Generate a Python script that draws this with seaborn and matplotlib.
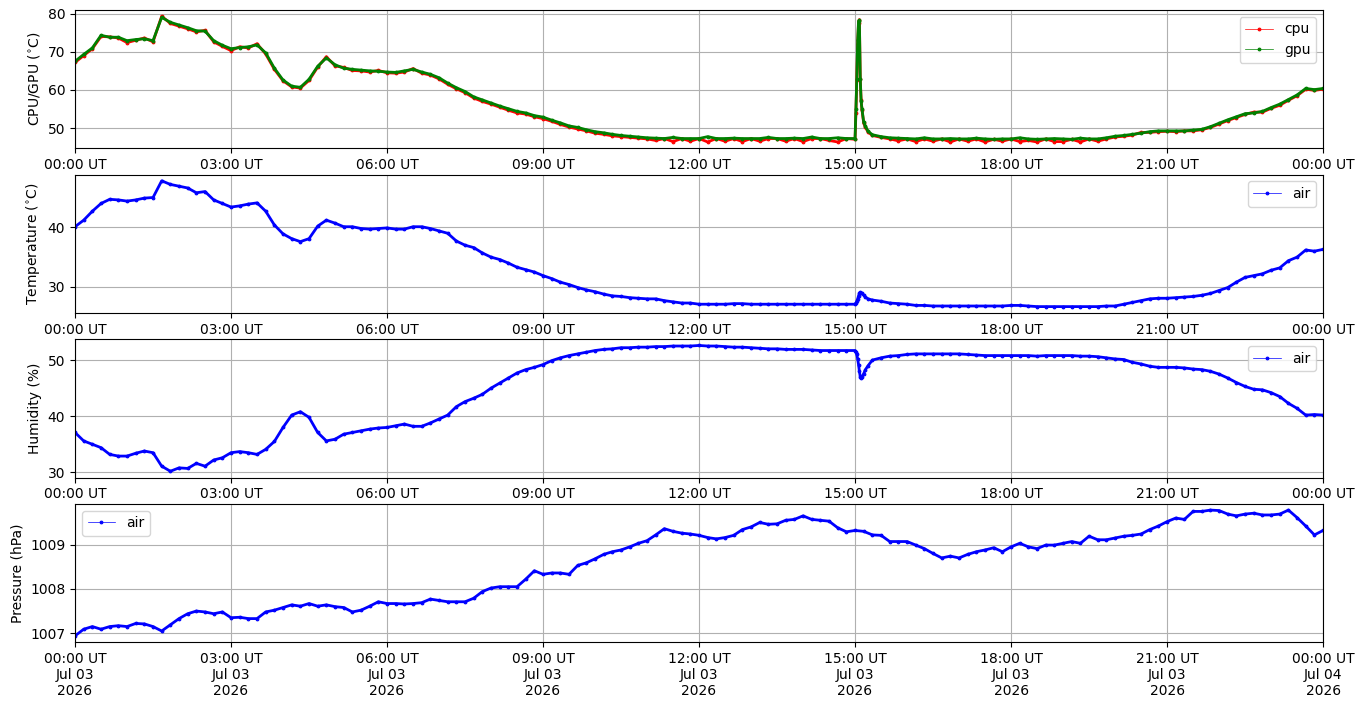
import datetime as dt
import matplotlib
matplotlib.use("Agg")
import matplotlib.pyplot as plt
import matplotlib.dates as mdates
import matplotlib.ticker as mticker
import seaborn as sns

day = dt.datetime(2026, 7, 3)

# one reading every 10 minutes, 00:00 UT .. 00:00 UT next day (145 values)
minutes = list(range(0, 24 * 60 + 1, 10))

cpu = [
    67.2, 69.0, 70.8, 74.0, 73.9, 73.6,
    72.4, 73.0, 73.6, 72.6, 79.3, 77.4,
    76.7, 76.0, 75.2, 75.6, 72.6, 71.4,
    70.3, 71.3, 71.0, 72.1, 69.4, 65.4,
    62.4, 60.8, 60.5, 62.5, 66.0, 68.7,
    66.3, 65.9, 65.1, 65.0, 64.7, 65.1,
    64.5, 64.4, 64.7, 65.6, 64.4, 63.9,
    62.9, 61.5, 60.3, 59.3, 57.9, 57.0,
    56.3, 55.5, 54.7, 54.0, 53.7, 53.0,
    52.5, 51.8, 51.0, 50.3, 49.8, 49.3,
    48.7, 48.4, 48.0, 47.8, 47.6, 47.4,
    47.2, 46.8, 47.3, 46.5, 47.3, 46.6,
    47.3, 46.4, 47.3, 46.6, 47.3, 46.5,
    47.3, 46.6, 47.3, 47.3, 46.6, 47.3,
    46.5, 47.3, 47.3, 46.8, 46.4, 47.3,
    47.1, 51.3, 48.1, 47.6, 47.2, 46.7,
    47.2, 46.5, 47.2, 46.6, 47.2, 46.4,
    47.2, 46.6, 47.2, 46.4, 47.1, 46.6,
    47.2, 46.5, 46.8, 46.4, 47.2, 46.5,
    46.5, 47.1, 46.4, 47.2, 46.6, 47.2,
    47.7, 47.9, 48.2, 48.9, 48.9, 49.1,
    49.2, 49.1, 49.3, 49.3, 49.6, 50.2,
    51.1, 52.0, 52.8, 53.6, 54.2, 54.2,
    55.2, 56.0, 57.3, 58.5, 60.2, 59.9,
    60.2,
]

gpu = [
    67.5, 69.3, 71.0, 74.3, 73.8, 73.8,
    72.9, 73.2, 73.4, 72.9, 79.0, 77.7,
    77.0, 76.3, 75.5, 75.4, 72.9, 71.7,
    70.8, 71.1, 71.3, 71.8, 69.7, 65.7,
    62.6, 61.0, 60.7, 62.8, 66.2, 68.4,
    66.6, 65.7, 65.4, 65.2, 65.0, 64.9,
    64.7, 64.6, 65.0, 65.4, 64.7, 64.1,
    63.2, 61.8, 60.6, 59.6, 58.2, 57.4,
    56.6, 55.8, 55.1, 54.4, 54.0, 53.3,
    52.9, 52.1, 51.4, 50.6, 50.2, 49.6,
    49.1, 48.8, 48.4, 48.1, 47.9, 47.7,
    47.5, 47.4, 47.3, 47.6, 47.3, 47.3,
    47.3, 47.8, 47.3, 47.3, 47.4, 47.3,
    47.3, 47.3, 47.6, 47.3, 47.3, 47.4,
    47.3, 47.7, 47.3, 47.3, 47.5, 47.3,
    47.3, 51.5, 48.3, 47.8, 47.5, 47.4,
    47.3, 47.2, 47.5, 47.2, 47.2, 47.3,
    47.2, 47.2, 47.4, 47.2, 47.1, 47.2,
    47.2, 47.5, 47.2, 47.1, 47.2, 47.3,
    47.2, 47.1, 47.4, 47.2, 47.2, 47.5,
    47.9, 48.1, 48.4, 48.7, 49.1, 49.3,
    49.3, 49.3, 49.3, 49.5, 49.7, 50.4,
    51.3, 52.2, 53.0, 53.8, 54.0, 54.4,
    55.4, 56.3, 57.5, 58.7, 60.4, 60.1,
    60.4,
]

air_temp = [
    40.1, 41.2, 42.7, 44.0, 44.7, 44.6,
    44.4, 44.6, 44.9, 45.0, 47.8, 47.2,
    46.9, 46.6, 45.8, 46.0, 44.6, 44.0,
    43.4, 43.6, 43.9, 44.1, 42.7, 40.4,
    38.9, 38.1, 37.6, 38.1, 40.2, 41.2,
    40.7, 40.1, 40.1, 39.8, 39.7, 39.8,
    39.9, 39.7, 39.7, 40.1, 40.1, 39.8,
    39.4, 39.0, 37.7, 37.0, 36.6, 35.7,
    35.0, 34.6, 34.0, 33.3, 32.9, 32.5,
    31.9, 31.4, 30.8, 30.4, 29.9, 29.5,
    29.2, 28.8, 28.5, 28.4, 28.2, 28.1,
    28.0, 28.0, 27.7, 27.5, 27.3, 27.3,
    27.1, 27.1, 27.1, 27.1, 27.2, 27.2,
    27.1, 27.1, 27.1, 27.1, 27.1, 27.1,
    27.1, 27.1, 27.1, 27.1, 27.1, 27.1,
    27.1, 28.6, 27.8, 27.6, 27.3, 27.2,
    27.1, 26.9, 26.9, 26.8, 26.8, 26.8,
    26.8, 26.8, 26.8, 26.8, 26.8, 26.8,
    26.9, 26.9, 26.8, 26.7, 26.7, 26.7,
    26.7, 26.7, 26.7, 26.7, 26.7, 26.8,
    26.8, 27.1, 27.4, 27.7, 28.0, 28.1,
    28.1, 28.2, 28.3, 28.4, 28.6, 28.9,
    29.4, 29.9, 30.8, 31.6, 31.9, 32.2,
    32.8, 33.2, 34.4, 35.0, 36.2, 36.0,
    36.3,
]

air_hum = [
    37.1, 35.6, 35.0, 34.4, 33.2, 32.9,
    32.9, 33.4, 33.8, 33.5, 31.1, 30.2,
    30.8, 30.7, 31.6, 31.1, 32.2, 32.6,
    33.5, 33.7, 33.5, 33.2, 34.1, 35.5,
    38.0, 40.2, 40.8, 39.8, 37.1, 35.6,
    35.9, 36.8, 37.1, 37.4, 37.7, 37.9,
    38.0, 38.3, 38.6, 38.2, 38.2, 38.8,
    39.5, 40.2, 41.7, 42.6, 43.2, 43.9,
    45.0, 45.9, 46.8, 47.7, 48.3, 48.7,
    49.2, 49.9, 50.4, 50.8, 51.1, 51.4,
    51.7, 51.9, 52.0, 52.2, 52.2, 52.3,
    52.3, 52.4, 52.4, 52.5, 52.5, 52.5,
    52.6, 52.5, 52.5, 52.4, 52.3, 52.3,
    52.2, 52.1, 52.0, 52.0, 51.9, 51.9,
    51.9, 51.8, 51.7, 51.7, 51.7, 51.7,
    51.7, 47.6, 50.0, 50.4, 50.7, 50.8,
    51.0, 51.1, 51.1, 51.1, 51.1, 51.1,
    51.1, 51.0, 50.9, 50.8, 50.8, 50.8,
    50.8, 50.8, 50.8, 50.7, 50.8, 50.8,
    50.8, 50.8, 50.7, 50.7, 50.6, 50.4,
    50.2, 50.1, 49.6, 49.3, 48.9, 48.7,
    48.7, 48.7, 48.6, 48.4, 48.3, 48.0,
    47.5, 46.8, 46.0, 45.3, 44.8, 44.7,
    44.2, 43.5, 42.3, 41.4, 40.2, 40.3,
    40.2,
]

air_pres = [
    1006.94, 1007.09, 1007.15, 1007.09, 1007.15, 1007.17,
    1007.15, 1007.22, 1007.21, 1007.15, 1007.05, 1007.19,
    1007.33, 1007.44, 1007.50, 1007.48, 1007.44, 1007.48,
    1007.35, 1007.36, 1007.33, 1007.33, 1007.48, 1007.52,
    1007.58, 1007.64, 1007.61, 1007.67, 1007.61, 1007.64,
    1007.60, 1007.58, 1007.48, 1007.52, 1007.61, 1007.71,
    1007.67, 1007.67, 1007.66, 1007.67, 1007.69, 1007.77,
    1007.74, 1007.71, 1007.71, 1007.71, 1007.79, 1007.94,
    1008.02, 1008.05, 1008.05, 1008.05, 1008.22, 1008.41,
    1008.33, 1008.36, 1008.36, 1008.33, 1008.53, 1008.59,
    1008.68, 1008.78, 1008.84, 1008.88, 1008.95, 1009.03,
    1009.09, 1009.22, 1009.36, 1009.30, 1009.26, 1009.24,
    1009.21, 1009.16, 1009.13, 1009.16, 1009.21, 1009.34,
    1009.40, 1009.50, 1009.46, 1009.47, 1009.55, 1009.57,
    1009.65, 1009.57, 1009.55, 1009.53, 1009.38, 1009.29,
    1009.32, 1009.30, 1009.22, 1009.21, 1009.07, 1009.07,
    1009.07, 1008.99, 1008.91, 1008.80, 1008.70, 1008.74,
    1008.70, 1008.78, 1008.84, 1008.88, 1008.93, 1008.84,
    1008.95, 1009.03, 1008.95, 1008.91, 1008.99, 1008.99,
    1009.03, 1009.07, 1009.03, 1009.19, 1009.11, 1009.11,
    1009.15, 1009.19, 1009.21, 1009.24, 1009.34, 1009.42,
    1009.52, 1009.60, 1009.57, 1009.75, 1009.75, 1009.78,
    1009.77, 1009.69, 1009.65, 1009.69, 1009.71, 1009.67,
    1009.67, 1009.69, 1009.78, 1009.61, 1009.42, 1009.22,
    1009.32,
]

# extra readings around the short load spike just after 15:00 UT
spike_minutes = [901, 902, 903, 904, 905, 906, 907, 908, 912, 915]
cpu_spike = [54.0, 62.6, 72.0, 77.5, 78.4, 62.8, 57.3, 54.8, 50.2, 49.0]
gpu_spike = [55.0, 63.0, 73.0, 78.0, 78.2, 63.0, 57.0, 55.0, 50.5, 49.2]
temp_spike = [27.3, 27.6, 28.0, 28.5, 28.9, 29.1, 29.0, 28.9, 28.3, 28.0]
hum_spike = [51.5, 51.0, 50.2, 49.2, 48.0, 47.0, 46.8, 47.0, 48.3, 49.0]


def to_times(mins):
    return [day + dt.timedelta(minutes=m) for m in mins]


t_grid = to_times(minutes)
t_all = to_times(minutes + spike_minutes)

fig, axes = plt.subplots(4, 1, figsize=(13.64, 7.08), dpi=100)
fig.subplots_adjust(left=0.055, right=0.97, top=0.986, bottom=0.093, hspace=0.19)

line_kw = dict(marker=".", markersize=4, linewidth=2.0)

ax = axes[0]
sns.lineplot(x=t_all, y=cpu + cpu_spike, ax=ax, color="r", markeredgecolor="r", label="cpu", **line_kw)
sns.lineplot(x=t_all, y=gpu + gpu_spike, ax=ax, color="g", markeredgecolor="g", label="gpu", **line_kw)
ax.set_ylabel(r"CPU/GPU ($^{\circ}$C)")
ax.yaxis.set_major_locator(mticker.MultipleLocator(10))
ax.legend(loc="upper right")

ax = axes[1]
sns.lineplot(x=t_all, y=air_temp + temp_spike, ax=ax, color="b", markeredgecolor="b", label="air", **line_kw)
ax.set_ylabel(r"Temperature ($^{\circ}$C)")
ax.yaxis.set_major_locator(mticker.MultipleLocator(10))
ax.legend(loc="upper right")

ax = axes[2]
sns.lineplot(x=t_all, y=air_hum + hum_spike, ax=ax, color="b", markeredgecolor="b", label="air", **line_kw)
ax.set_ylabel("Humidity (%)")
ax.yaxis.set_major_locator(mticker.MultipleLocator(10))
ax.legend(loc="upper right")

ax = axes[3]
sns.lineplot(x=t_grid, y=air_pres, ax=ax, color="b", markeredgecolor="b", label="air", **line_kw)
ax.set_ylabel("Pressure (hPa)")
ax.yaxis.set_major_locator(mticker.MultipleLocator(1))
ax.ticklabel_format(axis="y", useOffset=False)
ax.legend(loc="upper left")

for i, ax in enumerate(axes):
    ax.set_xlim(day, day + dt.timedelta(days=1))
    ax.xaxis.set_major_locator(mdates.HourLocator(byhour=range(0, 24, 3)))
    if i == 3:
        ax.xaxis.set_major_formatter(mdates.DateFormatter("%H:%M UT\n%b %d\n%Y"))
    else:
        ax.xaxis.set_major_formatter(mdates.DateFormatter("%H:%M UT"))
    ax.set_xlabel("")
    ax.grid(True)
    for h in ax.get_legend().get_lines():
        h.set_linewidth(0.5)

plt.savefig("out.png")
